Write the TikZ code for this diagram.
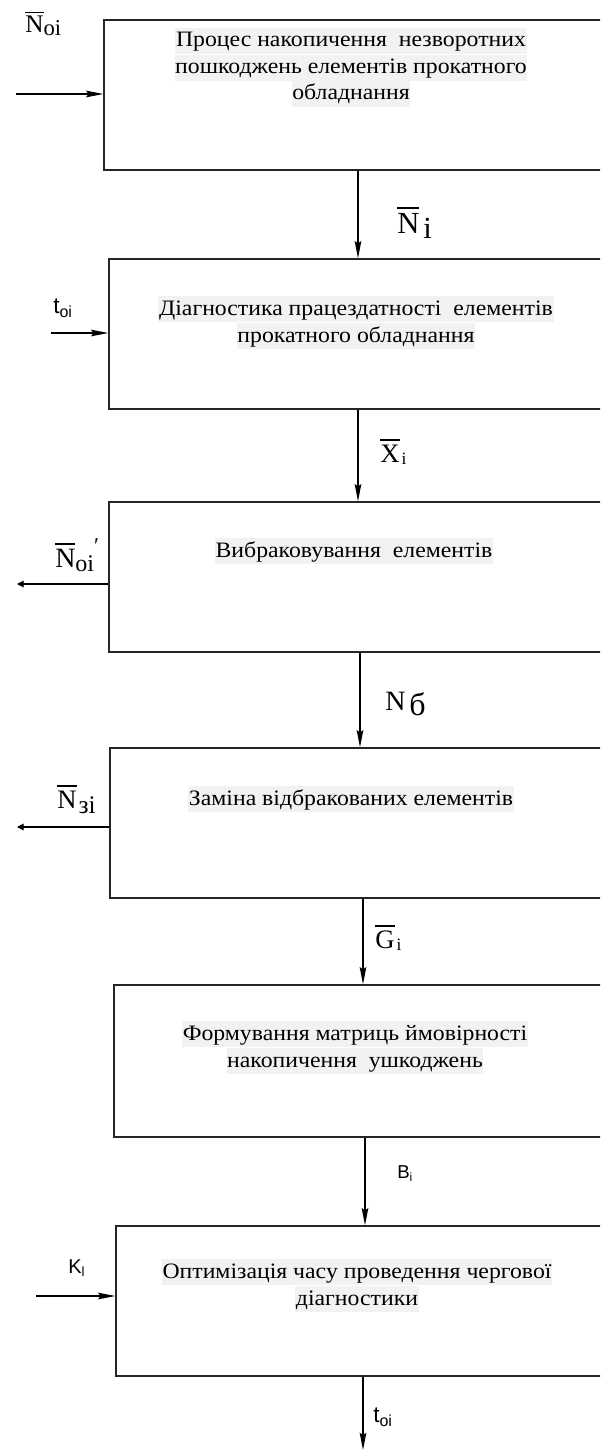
\documentclass[tikz,border=0pt]{standalone}
\usepackage{fontspec}
\setmainfont{Liberation Serif}
\newfontfamily\boxfont[FakeStretch=1.08]{Liberation Serif}
\newfontfamily\lsans{Liberation Sans}
\usetikzlibrary{fit,arrows.meta}
% overlined letter (bar over the whole glyph)
\newsavebox\ovlbox
\newcommand\ovl[1]{\leavevmode\sbox\ovlbox{#1}%
  \rlap{\raisebox{\dimexpr\ht\ovlbox+0.13em\relax}{\rule{\wd\ovlbox}{0.06em}}}\usebox\ovlbox}
\newcommand\fs[1]{\fontsize{#1}{#1}\selectfont}
\tikzset{
  box/.style={draw=black!85, line width=1.1pt, inner sep=0pt},
  txtline/.style={font=\boxfont\fontsize{16.5}{20}\selectfont, fill=black!5, inner xsep=0.5pt,
    inner ysep=0pt, text height=14pt, text depth=5.5pt, anchor=base},
  lbl/.style={anchor=base west, inner sep=0pt},
  arr/.style={line width=0.9pt, -{Stealth[length=13pt,width=5pt,inset=2pt]}},
  outarr/.style={line width=0.9pt, -{Stealth[length=5pt,width=5pt,inset=0pt]}},
}
\begin{document}
\begin{tikzpicture}[x=0.75pt,y=-0.75pt]
\useasboundingbox (0,0) rectangle (600,1452);
\clip (0,0) rectangle (600,1452);

% blocks (they run on past the right edge of the sheet)
\node[box, fit={(104,20)(610,170)}] (b1) {};
\node[box, fit={(109,259)(610,409)}] (b2) {};
\node[box, fit={(109,502)(610,652)}] (b3) {};
\node[box, fit={(110,748)(610,898)}] (b4) {};
\node[box, fit={(114,985)(610,1137)}] (b5) {};
\node[box, fit={(116,1226)(610,1376)}] (b6) {};

% block texts
\node[txtline] (b1a) at (351,47) {Процес накопичення\ \ незворотних};
\node[txtline] (b1b) at (b1a |- 0,74) {пошкоджень елементів прокатного};
\node[txtline] (b1c) at (b1a |- 0,100) {обладнання};
\node[txtline] (b2a) at (356,315) {Діагностика працездатності\ \ елементів};
\node[txtline] (b2b) at (b2a |- 0,342) {прокатного обладнання};
\node[txtline] (b3a) at (354,557) {Вибраковування\ \ елементів};
\node[txtline] (b4a) at (351,805) {Заміна відбракованих елементів};
\node[txtline] (b5a) at (355,1040) {Формування матриць ймовірності};
\node[txtline] (b5b) at (b5a |- 0,1067) {накопичення\ \ ушкоджень};
\node[txtline] (b6a) at (357,1278) {Оптимізація часу проведення чергової};
\node[txtline] (b6b) at (b6a |- 0,1305) {діагностики};

% free ends of inputs and outputs
\coordinate (in1) at (16,94);
\coordinate (in2) at (51,333);
\coordinate (out3) at (17,584);
\coordinate (out4) at (17,827);
\coordinate (in6) at (36,1296);
\coordinate (end6) at (363,1450);

% flow between blocks
\draw[arr] (b1.south -| 358,0) -- (b2.north -| 358,0);
\draw[arr] (b2.south -| 358,0) -- (b3.north -| 358,0);
\draw[arr] (b3.south -| 360,0) -- (b4.north -| 360,0);
\draw[arr] (b4.south -| 363,0) -- (b5.north -| 363,0);
\draw[arr] (b5.south -| 365,0) -- (b6.north -| 365,0);
\draw[arr] (b6.south -| end6) -- (end6);

% side inputs and outputs
\draw[arr] (in1) -- (in1 -| b1.west);
\draw[arr] (in2) -- (in2 -| b2.west);
\draw[outarr] (out3 -| b3.west) -- (out3);
\draw[outarr] (out4 -| b4.west) -- (out4);
\draw[arr] (in6) -- (in6 -| b6.west);

% labels
\node[lbl] (l1) at (25,33) {\fs{19}\ovl{N}\raisebox{-2pt}{\fs{17}oi}};
\node[lbl] (l2) at (397,233) {\fs{23}\ovl{N}\hspace{3pt}\raisebox{-4pt}{i}};
\node[lbl] (l3) at (53,313) {\lsans\fs{17}t\raisebox{-3pt}{\fs{12}oi}};
\node[lbl] (l4) at (380,462) {\fs{20}\ovl{X}\hspace{1.5pt}\raisebox{-1.5pt}{\fs{13}i}};
\node[lbl] (l5) at (55,567) {\fs{21}\ovl{N}\raisebox{-3.5pt}{\fs{18}oi}\raisebox{10pt}{\fs{17}′}};
\node[lbl] (l6) at (385,710) {\fs{21}N\hspace{3pt}\raisebox{-4pt}{\fs{24}б}};
\node[lbl] (l7) at (57,808) {\fs{20}\ovl{N}\hspace{1.5pt}\raisebox{-4pt}{\fs{19}зі}};
\node[lbl] (l8) at (375,948) {\fs{20}\ovl{G}\hspace{1.5pt}\raisebox{-2pt}{\fs{13}i}};
\node[lbl] (l9) at (397,1178) {\lsans\fs{14}B\raisebox{-2.5pt}{\fs{9}i}};
\node[lbl] (l10) at (68,1273) {\lsans\fs{15}K\raisebox{-2.5pt}{\fs{10}l}};
\node[lbl] (l11) at (373,1422) {\lsans\fs{17}t\raisebox{-3pt}{\fs{12}oi}};
\end{tikzpicture}
\end{document}
